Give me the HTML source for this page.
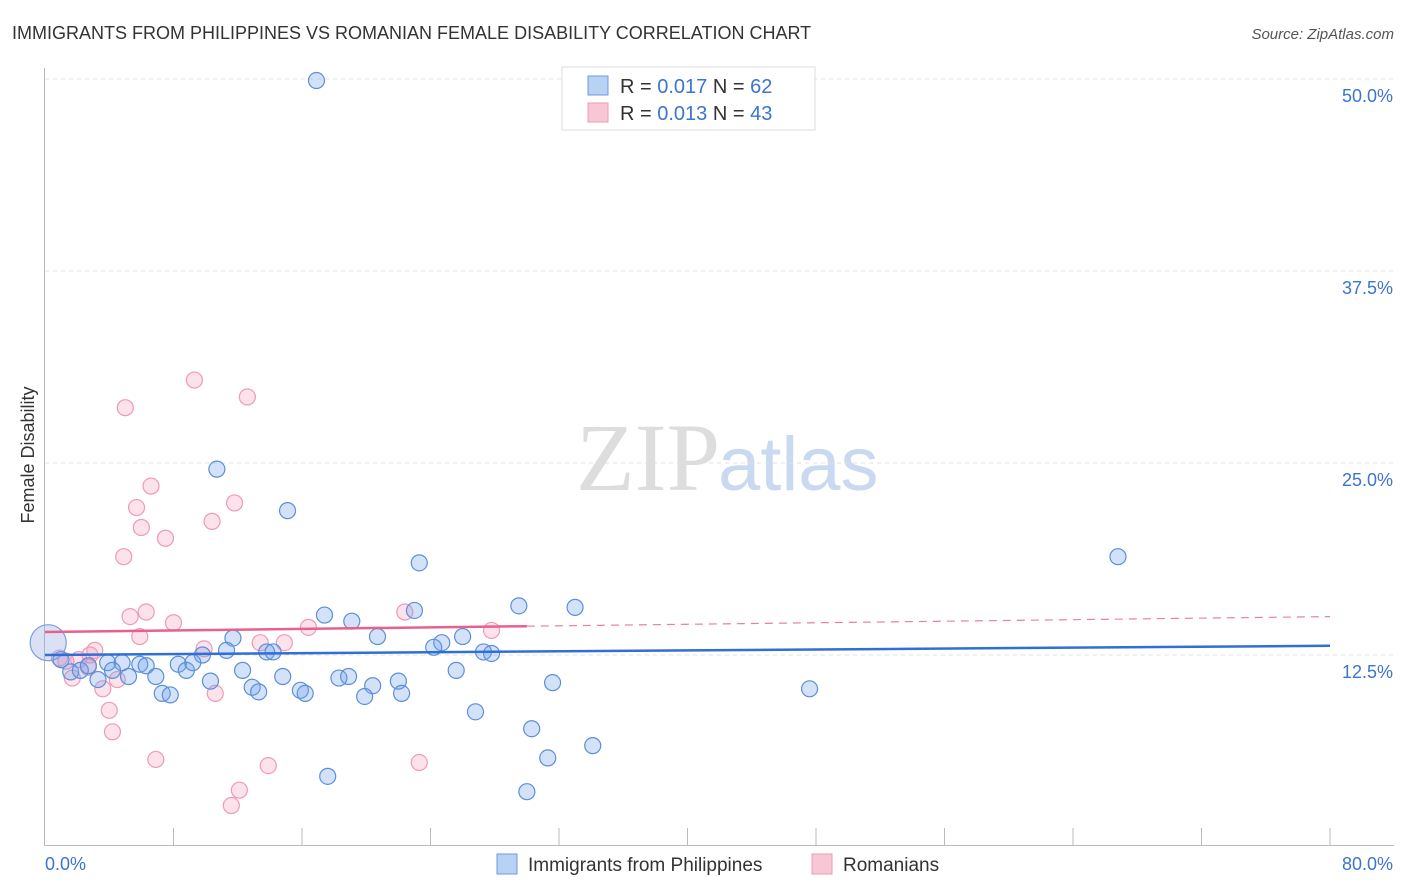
<!DOCTYPE html>
<html><head><meta charset="utf-8"><style>
body{margin:0;background:#fff;font-family:"Liberation Sans",sans-serif;}
svg{display:block}
</style></head><body>
<svg id="chart" width="1406" height="892" xmlns="http://www.w3.org/2000/svg">
<text x="12" y="39" font-size="18" fill="#333">IMMIGRANTS FROM PHILIPPINES VS ROMANIAN FEMALE DISABILITY CORRELATION CHART</text>
<text x="1394" y="39" font-size="15" fill="#555" font-style="italic" text-anchor="end">Source: ZipAtlas.com</text>
<text x="720" y="490" font-size="96" text-anchor="end" fill="#ddd" font-family="Liberation Serif">ZIP</text>
<text x="718" y="490" font-size="76" fill="#c8d9f0">atlas</text>
<text transform="translate(34,455) rotate(-90)" font-size="18" fill="#333" text-anchor="middle">Female Disability</text>
<g id="grid"></g><g id="pts"></g><g id="trend"></g>
<g>
<rect x="562" y="67" width="253" height="63" fill="#fff" stroke="#ddd"/>
<rect x="588" y="76" width="20" height="19" fill="#b8d2f4" stroke="#6a9be0"/>
<rect x="588" y="103" width="20" height="19" fill="#f9c6d6" stroke="#ee9ab6"/>
<text x="620" y="93" font-size="20" fill="#333">R = <tspan fill="#3a75d0">0.017</tspan>   N = <tspan fill="#3a75d0">62</tspan></text>
<text x="620" y="120" font-size="20" fill="#333">R = <tspan fill="#3a75d0">0.013</tspan>   N = <tspan fill="#3a75d0">43</tspan></text>
</g>
<g>
<rect x="497" y="854" width="20" height="20" fill="#b8d2f4" stroke="#6a9be0"/>
<text x="528" y="871" font-size="19" fill="#333">Immigrants from Philippines</text>
<rect x="812" y="854" width="20" height="20" fill="#f9c6d6" stroke="#ee9ab6"/>
<text x="843" y="871" font-size="19" fill="#333">Romanians</text>
</g>
</svg>
<script>
const yTicks=[12.5,25,37.5,50];
const yTickLabels=["12.5%","25.0%","37.5%","50.0%"];
const xTickLabels=["0.0%","80.0%"];
const blueX=[16.9,10.7,15.1,23.3,66.8,29.5,33.0,23.0,17.4,19.1,11.7,20.7,26.0,24.7,24.2,11.3,9.8,13.8,14.2,27.3,27.8,1.0,1.6,2.2,2.7,3.9,4.8,4.2,5.2,5.9,6.3,6.9,8.3,8.8,9.2,3.3,10.3,12.3,14.8,12.9,13.3,15.9,16.2,18.3,18.9,20.4,19.9,22.0,22.2,25.6,31.6,47.6,7.3,7.8,26.8,30.3,34.1,31.3,17.6,30.0];
const blueY=[49.9,24.6,21.9,18.5,18.9,15.7,15.6,15.4,15.1,14.7,13.6,13.7,13.7,13.3,13.0,12.8,12.5,12.7,12.7,12.7,12.6,12.2,11.4,11.5,11.8,12.0,12.0,11.5,11.1,11.9,11.8,11.1,11.9,11.5,12.0,10.9,10.8,11.5,11.1,10.4,10.1,10.2,10.0,11.0,11.1,10.5,9.8,10.8,10.0,11.5,10.7,10.3,10.0,9.9,8.8,7.7,6.6,5.8,4.6,3.6];
const pinkX=[9.3,5.0,12.6,6.6,11.8,5.7,10.4,6.0,7.5,4.9,6.3,5.3,22.4,8.0,16.4,27.8,5.9,13.4,14.9,9.9,3.1,2.8,2.1,1.3,2.7,1.7,4.5,3.6,10.6,4.0,4.2,6.9,13.9,23.3,12.1,11.6,0.9];
const pinkY=[30.4,28.6,29.3,23.5,22.4,22.1,21.2,20.8,20.1,18.9,15.3,15.0,15.3,14.6,14.3,14.1,13.7,13.3,13.3,12.9,12.8,12.5,12.2,12.1,11.7,11.0,10.9,10.3,10.0,8.9,7.5,5.7,5.3,5.5,3.7,2.7,12.3];
const blueTrend=[12.5,13.1];
const pinkTrend=[14.0,15.0];
const pinkSolidEnd=30;
const X=v=>45+v*16.0625, Y=v=>79+(50-v)*15.36;
const NS="http://www.w3.org/2000/svg";
function mk(t,a,p){const e=document.createElementNS(NS,t);for(const k in a)e.setAttribute(k,a[k]);p.appendChild(e);return e;}
const grid=document.getElementById('grid');
yTicks.forEach((v,i)=>{
 const l=mk('line',{x1:45,x2:1394,y1:Y(v),y2:Y(v),stroke:'#e0e0e0','stroke-dasharray':'4,4'},grid);
 
 
 const t=mk('text',{x:1393,y:Y(v)+23,'font-size':18,fill:'#3a75d0','text-anchor':'end'},grid);
 t.textContent=yTickLabels[i];
 
 
});
mk('line',{x1:44.5,x2:44.5,y1:68,y2:846,stroke:'#bbb'},grid);
mk('line',{x1:45,x2:1394,y1:845.5,y2:845.5,stroke:'#bbb'},grid);
for(let i=1;i<=10;i++){const x=X(i*8);const tk=mk('line',{x1:x,x2:x,y1:828,y2:846,stroke:'#bbb'},grid);}
const xl0=mk('text',{x:45,y:870,'font-size':18,fill:'#3a75d0'},grid);xl0.textContent=xTickLabels[0];


const xl1=mk('text',{x:1393,y:870,'font-size':18,fill:'#3a75d0','text-anchor':'end'},grid);xl1.textContent=xTickLabels[1];


const pts=document.getElementById('pts');
pinkX.forEach((v,i)=>{const c=mk('circle',{cx:X(v),cy:Y(pinkY[i]),r:8,fill:'rgba(244,160,190,0.3)',stroke:'#ee9ab6','stroke-width':1.2},pts);
 
 });
blueX.forEach((v,i)=>{const c=mk('circle',{cx:X(v),cy:Y(blueY[i]),r:8,fill:'rgba(110,160,235,0.3)',stroke:'#5b8fd8','stroke-width':1.2},pts);
 
 });
const big=mk('circle',{cx:X(0.2),cy:Y(13.3),r:18,fill:'rgba(150,170,225,0.35)',stroke:'#7a9ee0','stroke-width':1.2},pts);


const tr=document.getElementById('trend');
const bl=mk('line',{x1:X(0),x2:X(80),y1:Y(blueTrend[0]),y2:Y(blueTrend[1]),stroke:'#2f6fd6','stroke-width':2.5},tr);


const pm=v=>pinkTrend[0]+(pinkTrend[1]-pinkTrend[0])*v/80;
const ps=mk('line',{x1:X(0),x2:X(pinkSolidEnd),y1:Y(pm(0)),y2:Y(pm(pinkSolidEnd)),stroke:'#e8608c','stroke-width':2.5},tr);


const pd=mk('line',{x1:X(pinkSolidEnd),x2:X(80),y1:Y(pm(pinkSolidEnd)),y2:Y(pm(80)),stroke:'#e8809f','stroke-width':1.2,'stroke-dasharray':'8,6'},tr);


</script>
</body></html>
